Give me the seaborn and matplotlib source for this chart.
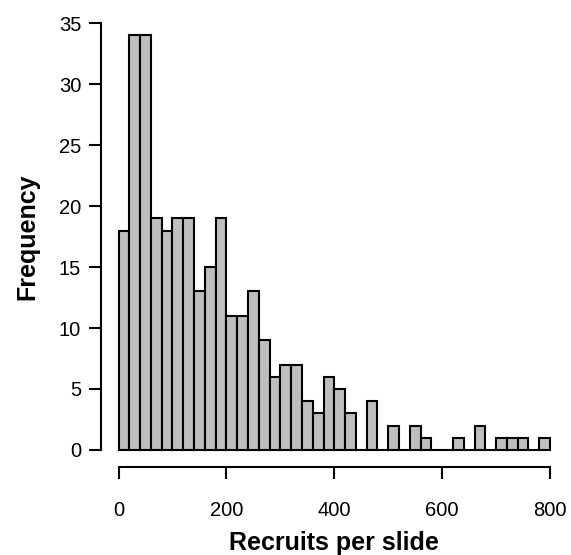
import numpy as np
import pandas as pd
import matplotlib
matplotlib.use("Agg")
import matplotlib.pyplot as plt
import seaborn as sns

# histogram counts, bins of width 20 from 0 to 800
bin_starts = list(range(0, 800, 20))
counts = [18, 34, 34, 19, 18, 19, 19, 13, 15, 19,
          11, 11, 13, 9, 6, 7, 7, 4, 3, 6,
          5, 3, 0, 4, 0, 2, 0, 2, 1, 0,
          0, 1, 0, 2, 0, 1, 1, 1, 0, 1]
x_ticks = [0, 200, 400, 600, 800]
y_ticks = [0, 5, 10, 15, 20, 25, 30, 35]

df = pd.DataFrame({"recruits": np.array(bin_starts) + 10, "n": counts})

sns.set_style("ticks")
plt.rcParams['font.family'] = ['Liberation Sans', 'DejaVu Sans']

fig = plt.figure(figsize=(5.71, 5.55), dpi=100)
ax = fig.add_axes([0.1774, 0.1586, 0.9935 - 0.1774, 0.9888 - 0.1586])

sns.histplot(data=df, x="recruits", weights="n", binwidth=20, binrange=(0, 800),
             ax=ax, color="#bebebe", alpha=1, edgecolor="black", linewidth=1.5)

ax.set_xlim(-32, 832)
ax.set_ylim(-1.4, 36.4)
ax.set_xticks(x_ticks)
ax.set_yticks(y_ticks)

for s in ["top", "right"]:
    ax.spines[s].set_visible(False)
ax.spines["left"].set_bounds(0, 35)
ax.spines["bottom"].set_bounds(0, 800)
for s in ["left", "bottom"]:
    ax.spines[s].set_linewidth(1.5)
    ax.spines[s].set_color("black")

ax.tick_params(axis="both", direction="out", length=8.5, width=1.5,
               labelsize=14.5, colors="black")
ax.tick_params(axis="x", pad=16)
ax.tick_params(axis="y", pad=6)

ax.set_xlabel("Recruits per slide", fontsize=18, fontweight="bold", labelpad=8,
              color="black")
ax.set_ylabel("Frequency", fontsize=18, fontweight="bold", labelpad=14,
              color="black")

fig.savefig("out.png", dpi=100)
